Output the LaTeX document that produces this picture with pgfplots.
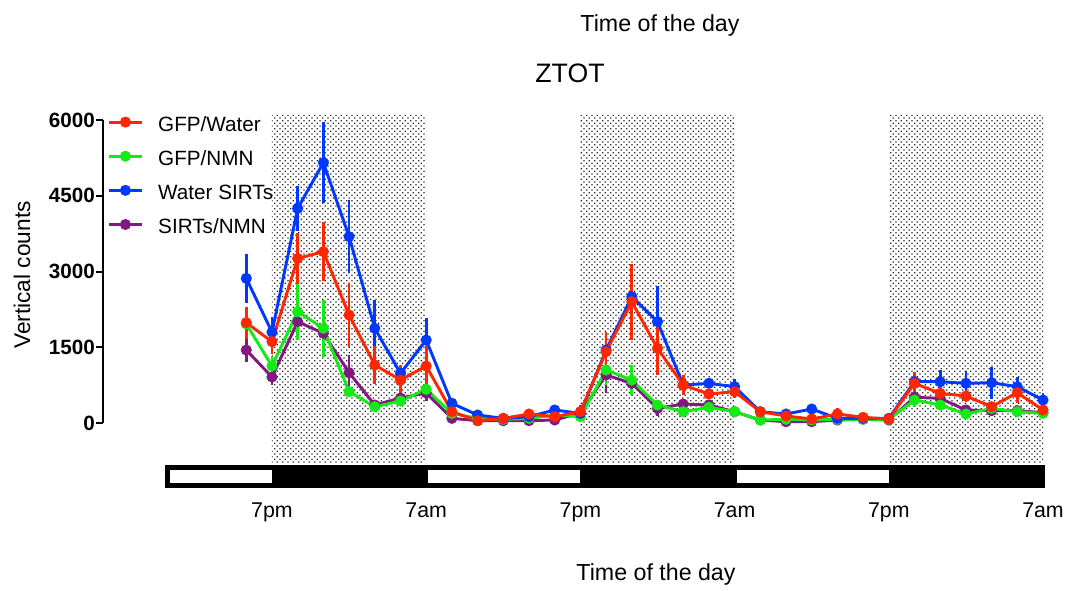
\documentclass[border=0pt]{standalone}
\usepackage{fontspec}
\setmainfont{Liberation Sans}
\usepackage{pgfplots}
\usepackage{pgfplotstable}
\pgfplotsset{compat=1.18}
\usetikzlibrary{patterns}
\pgfdeclarepatternformonly{mydots}{\pgfqpoint{-1pt}{-1pt}}{\pgfqpoint{3pt}{3pt}}{\pgfqpoint{4pt}{4pt}}{
  \pgfpathrectangle{\pgfqpoint{-0.45pt}{-0.45pt}}{\pgfqpoint{0.9pt}{0.9pt}}
  \pgfpathrectangle{\pgfqpoint{1.55pt}{1.55pt}}{\pgfqpoint{0.9pt}{0.9pt}}
  \pgfusepath{fill}}
\definecolor{cred}{RGB}{255,38,0}
\definecolor{cgreen}{RGB}{20,235,20}
\definecolor{cblue}{RGB}{0,56,255}
\definecolor{cpurple}{RGB}{128,26,128}
\pgfplotstableread{
x r re g ge b be p pe
-2 1987 320 1960 200 2865 480 1445 230
0 1610 250 1129 200 1800 300 911 150
2 3260 500 2204 560 4250 450 2006 230
4 3392 580 1875 560 5155 800 1776 300
6 2138 630 620 100 3690 720 996 350
8 1148 380 323 60 1875 570 356 80
10 851 300 435 80 983 150 495 80
12 1128 410 667 120 1643 440 594 160
14 224 80 191 40 390 80 92 30
16 46 30 92 30 158 40 46 30
18 92 40 73 30 92 40 46 30
20 178 60 92 30 125 40 46 30
22 125 50 158 40 257 60 59 30
24 224 100 125 50 191 50 200 150
26 1412 400 1049 300 1445 350 950 350
28 2402 750 851 300 2501 300 785 150
30 1478 530 356 100 2006 700 290 150
32 752 200 224 100 752 200 376 80
34 574 100 310 80 785 100 356 60
36 620 130 224 60 719 150 224 40
38 224 60 59 30 224 50 59 30
40 139 50 73 30 178 50 26 20
42 79 40 59 30 277 100 26 20
44 178 120 73 30 92 40 59 30
46 112 40 73 30 92 40 73 30
48 79 50 73 30 92 50 59 30
50 785 230 455 130 818 200 508 100
52 587 120 356 80 818 240 489 80
54 535 120 178 100 785 250 257 80
56 323 100 290 60 798 320 244 80
58 601 200 224 60 719 200 244 60
60 257 100 191 70 455 130 204 60
}\data
\begin{document}
\begin{tikzpicture}
\path[use as bounding box] (-77.25pt,-125.25pt) rectangle (723.75pt,317.25pt);
\begin{axis}[
  at={(0,0)}, anchor=south west,
  width=705pt, height=227.25pt, scale only axis,
  xmin=-13.15, xmax=60, ymin=0, ymax=6000,
  clip=false,
  axis x line=none, axis y line*=left,
  y axis line style={line width=1.5pt},
  ytick={0,1500,3000,4500,6000},
  tick align=outside,
  major tick length=5pt,
  every tick/.style={line width=1.5pt, black},
  /pgf/number format/assume math mode=true,
  /pgf/number format/1000 sep={},
  yticklabel style={font=\fontsize{15.5}{17}\selectfont\bfseries, xshift=2.5pt},
  every axis plot/.append style={line width=2.2pt, mark=*, mark size=3pt, mark options={solid}},
  error bars/error bar style={line width=2pt},
  legend style={at={(0.0043,1.016)}, anchor=north west, draw=none, fill=none,
    inner sep=0pt, row sep=9.6pt,
    font=\fontsize{15.5}{17}\selectfont,
    nodes={inner sep=1pt, text height=11pt, text depth=3pt}},
  legend cell align=left,
  legend image code/.code={
    \draw[#1] (0pt,0.3em) -- (25pt,0.3em);
    \draw[#1, mark repeat=1] plot coordinates {(12.5pt,0.3em)};
    \path (35pt,0.3em);
  },
]
% dark-period shading
\fill[pattern=mydots, pattern color=black!85] (axis cs:0,-792) rectangle (axis cs:12,6098);
\fill[pattern=mydots, pattern color=black!85] (axis cs:24,-792) rectangle (axis cs:36,6098);
\fill[pattern=mydots, pattern color=black!85] (axis cs:48,-792) rectangle (axis cs:60,6098);
% light/dark bar
\fill[black] (axis cs:-8.33,-832) rectangle (axis cs:60.15,-1287);
\fill[white] (axis cs:-7.95,-931) rectangle (axis cs:0,-1188);
\fill[white] (axis cs:12.15,-931) rectangle (axis cs:24,-1188);
\fill[white] (axis cs:36.15,-931) rectangle (axis cs:48,-1188);
% legend
\addlegendimage{cred, line width=2.2pt, mark=*, mark size=3pt}
\addlegendentry{GFP/Water}
\addlegendimage{cgreen, line width=2.2pt, mark=*, mark size=3pt}
\addlegendentry{GFP/NMN}
\addlegendimage{cblue, line width=2.2pt, mark=*, mark size=3pt}
\addlegendentry{Water SIRTs}
\addlegendimage{cpurple, line width=2.2pt, mark=*, mark size=3pt}
\addlegendentry{SIRTs/NMN}
% data
\addplot[cpurple, forget plot, error bars/.cd, y dir=both, y explicit, error mark=none]
  table[x=x, y=p, y error=pe] {\data};
\addplot[cgreen, forget plot, error bars/.cd, y dir=both, y explicit, error mark=none]
  table[x=x, y=g, y error=ge] {\data};
\addplot[cblue, forget plot, error bars/.cd, y dir=both, y explicit, error mark=none]
  table[x=x, y=b, y error=be] {\data};
\addplot[cred, forget plot, error bars/.cd, y dir=both, y explicit, error mark=none]
  table[x=x, y=r, y error=re] {\data};
% time labels
\node[anchor=base, font=\fontsize{16}{18}\selectfont] at (axis cs:0,-1881) {7pm};
\node[anchor=base, font=\fontsize{16}{18}\selectfont] at (axis cs:12,-1881) {7am};
\node[anchor=base, font=\fontsize{16}{18}\selectfont] at (axis cs:24,-1881) {7pm};
\node[anchor=base, font=\fontsize{16}{18}\selectfont] at (axis cs:36,-1881) {7am};
\node[anchor=base, font=\fontsize{16}{18}\selectfont] at (axis cs:48,-1881) {7pm};
\node[anchor=base, font=\fontsize{16}{18}\selectfont] at (axis cs:60,-1881) {7am};
\end{axis}
\node[anchor=base, font=\fontsize{17.4}{20}\selectfont] at (417.75pt,293.25pt) {Time of the day};
\node[anchor=base, font=\fontsize{20}{23}\selectfont] at (350.25pt,255pt) {ZTOT};
\node[anchor=base, font=\fontsize{17.4}{20}\selectfont] at (414.75pt,-117.75pt) {Time of the day};
\node[rotate=90, font=\fontsize{17}{20}\selectfont] at (-60.75pt,111pt) {Vertical counts};
\end{tikzpicture}
\end{document}
